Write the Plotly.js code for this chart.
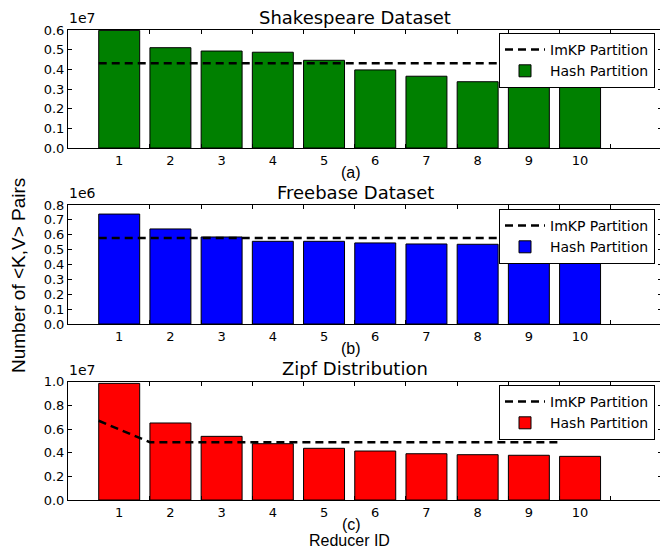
<!DOCTYPE html>
<html>
<head>
<meta charset="utf-8">
<script src="https://cdn.plot.ly/plotly-3.0.1.min.js"></script>
<style>
html,body{margin:0;padding:0;overflow:hidden;background:#fff;width:660px;height:552px;}
#chart{width:664px;height:552px;}
</style>
</head>
<body>
<div id="chart"></div>
<script>
// ---- data ----
const reducers = [1, 2, 3, 4, 5, 6, 7, 8, 9, 10];
const xTickLabels = ['1', '2', '3', '4', '5', '6', '7', '8', '9', '10'];

const shakespeareHash = [5.98e6, 5.10e6, 4.93e6, 4.87e6, 4.46e6, 3.97e6, 3.65e6, 3.37e6, 3.24e6, 3.14e6];
const shakespeareImkp = [4.31e6, 4.31e6, 4.31e6, 4.31e6, 4.31e6, 4.31e6, 4.31e6, 4.31e6, 4.31e6, 4.31e6];

const freebaseHash = [7.39e5, 6.39e5, 5.85e5, 5.56e5, 5.56e5, 5.45e5, 5.38e5, 5.36e5, 5.32e5, 5.28e5];
const freebaseImkp = [5.78e5, 5.78e5, 5.78e5, 5.78e5, 5.78e5, 5.78e5, 5.78e5, 5.78e5, 5.78e5, 5.78e5];

const zipfHash = [9.86e6, 6.51e6, 5.38e6, 4.76e6, 4.37e6, 4.14e6, 3.91e6, 3.83e6, 3.78e6, 3.69e6];
const zipfImkp = [6.70e6, 4.88e6, 4.88e6, 4.88e6, 4.88e6, 4.88e6, 4.88e6, 4.88e6, 4.88e6, 4.88e6];

const yTicksA = [0, 1e6, 2e6, 3e6, 4e6, 5e6, 6e6];
const yLabelsA = ['0.0', '0.1', '0.2', '0.3', '0.4', '0.5', '0.6'];
const yTicksB = [0, 1e5, 2e5, 3e5, 4e5, 5e5, 6e5, 7e5, 8e5];
const yLabelsB = ['0.0', '0.1', '0.2', '0.3', '0.4', '0.5', '0.6', '0.7', '0.8'];
const yTicksC = [0, 2e6, 4e6, 6e6, 8e6, 10e6];
const yLabelsC = ['0.0', '0.2', '0.4', '0.6', '0.8', '1.0'];

const panelTitles = ['Shakespeare Dataset', 'Freebase Dataset', 'Zipf Distribution'];
const panelLetters = ['(a)', '(b)', '(c)'];
const offsetTexts = ['1e7', '1e6', '1e7'];
const barColors = ['#008000', '#0000ff', '#ff0000'];
const seriesNames = ['ImKP Partition', 'Hash Partition'];

// ---- layout helpers ----
const W = 664, H = 552;
const px = v => v / W;
const py = v => 1 - v / H;
const edgeTicks = reducers.map(r => r + 0.6);
const lineX = reducers.map(r => r - 0.4);
const FONT = 'DejaVu Sans, sans-serif';
const SANS = 'Liberation Sans, Arial, sans-serif';
const XRANGE = [0, 11.6];

const panels = [
  {hash: shakespeareHash, imkp: shakespeareImkp, ticks: yTicksA, labels: yLabelsA, range: [0, 6e6], top: 30, bottom: 148, legTop: 33},
  {hash: freebaseHash, imkp: freebaseImkp, ticks: yTicksB, labels: yLabelsB, range: [0, 8e5], top: 205, bottom: 324, legTop: 209},
  {hash: zipfHash, imkp: zipfImkp, ticks: yTicksC, labels: yLabelsC, range: [0, 1e7], top: 381.7, bottom: 500, legTop: 385}
];

const traces = [];
const layout = {
  width: W, height: H,
  margin: {l: 0, r: 0, t: 0, b: 0},
  paper_bgcolor: '#fff', plot_bgcolor: '#fff',
  font: {family: FONT, size: 13, color: '#000'},
  bargap: 0,
  annotations: []
};

panels.forEach((p, i) => {
  const n = i + 1;
  const sfx = n === 1 ? '' : String(n);
  const xa = 'x' + sfx, ya = 'y' + sfx;
  const ovN = n + 3;
  const leg = n === 1 ? 'legend' : 'legend' + n;

  traces.push({
    type: 'scatter', mode: 'lines', x: lineX, y: p.imkp, name: seriesNames[0],
    xaxis: xa, yaxis: ya, legend: leg,
    line: {color: '#000', width: 2.5, dash: '8px,5px'}
  });
  traces.push({
    type: 'bar', x: reducers, y: p.hash, name: seriesNames[1], width: 0.8,
    xaxis: xa, yaxis: ya, legend: leg,
    marker: {color: barColors[i], line: {color: '#000', width: 1}}
  });
  traces.push({
    type: 'scatter', mode: 'markers', x: [null], y: [null], showlegend: false,
    xaxis: 'x' + ovN, yaxis: ya, hoverinfo: 'skip'
  });

  const dom = [py(p.bottom), py(p.top)];
  layout['xaxis' + sfx] = {
    domain: [px(68), px(662)], anchor: ya, range: XRANGE,
    tickvals: reducers, ticktext: xTickLabels, ticks: '', showgrid: false, zeroline: false,
    showline: true, linecolor: '#000', linewidth: 1, mirror: true,
    tickfont: {family: FONT, size: 13, color: '#000'}
  };
  layout['xaxis' + ovN] = {
    overlaying: xa, anchor: ya, range: XRANGE, side: 'bottom',
    tickvals: edgeTicks, showticklabels: false, ticks: 'inside', ticklen: 4, tickcolor: '#000',
    mirror: 'ticks', showline: true, linecolor: '#000', linewidth: 1,
    showgrid: false, zeroline: false
  };
  layout['yaxis' + sfx] = {
    domain: dom, anchor: xa, range: p.range,
    tickvals: p.ticks, ticktext: p.labels, ticks: 'inside', ticklen: 4, tickcolor: '#000',
    mirror: 'ticks', showline: true, linecolor: '#000', linewidth: 1,
    showgrid: false, zeroline: false,
    tickfont: {family: FONT, size: 13, color: '#000'}
  };
  layout[leg] = {
    x: px(655), xanchor: 'right', y: py(p.legTop), yanchor: 'top',
    bgcolor: '#fff', bordercolor: '#000', borderwidth: 1,
    font: {family: FONT, size: 14, color: '#000'},
    itemwidth: 40,
    traceorder: 'normal'
  };

  layout.annotations.push({
    text: panelTitles[i], xref: 'paper', yref: 'paper', x: px(355), y: py(p.top - 13),
    xanchor: 'center', yanchor: 'middle', showarrow: false,
    font: {family: FONT, size: 18, color: '#000'}
  });
  layout.annotations.push({
    text: offsetTexts[i], xref: 'paper', yref: 'paper', x: px(67), y: py(p.top - 12),
    xanchor: 'left', yanchor: 'middle', showarrow: false,
    font: {family: FONT, size: 14, color: '#000'}
  });
  layout.annotations.push({
    text: panelLetters[i], xref: 'paper', yref: 'paper', x: px(351), y: py(p.bottom + 24),
    xanchor: 'center', yanchor: 'middle', showarrow: false,
    font: {family: SANS, size: 16, color: '#000'}
  });
});

layout.annotations.push({
  text: 'Reducer ID', xref: 'paper', yref: 'paper', x: px(349), y: py(540),
  xanchor: 'center', yanchor: 'middle', showarrow: false,
  font: {family: SANS, size: 16, color: '#000'}
});
layout.annotations.push({
  text: 'Number of &lt;K,V&gt; Pairs', xref: 'paper', yref: 'paper', x: px(18), y: py(276),
  xanchor: 'center', yanchor: 'middle', showarrow: false, textangle: -90,
  font: {family: SANS, size: 19, color: '#000'}
});

Plotly.newPlot('chart', traces, layout, {displayModeBar: false, staticPlot: true});
</script>
</body>
</html>
